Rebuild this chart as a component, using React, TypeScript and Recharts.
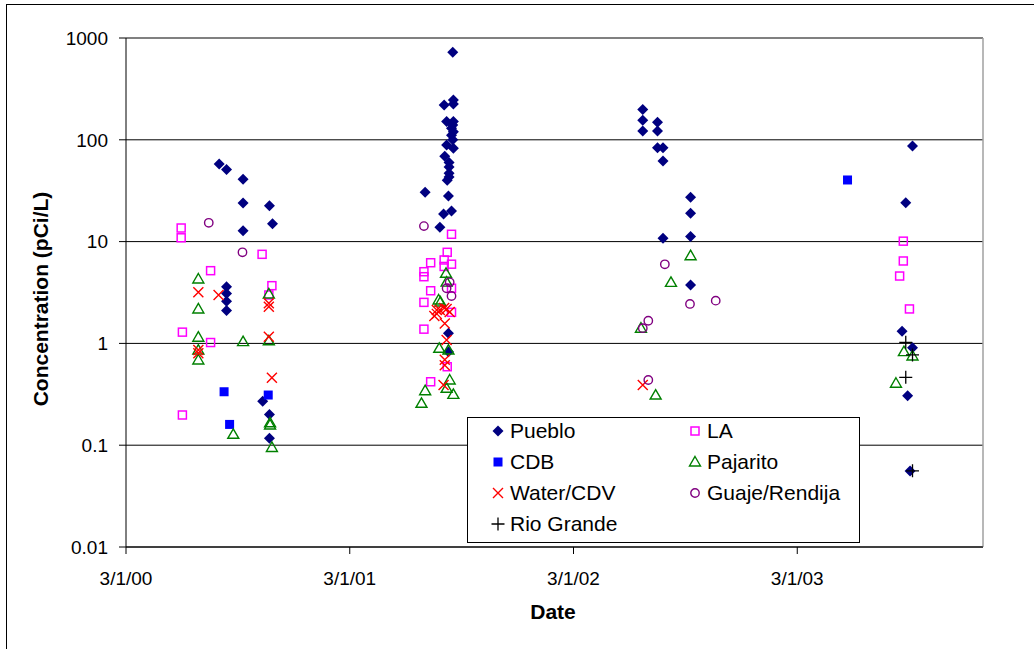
import { ScatterChart, Scatter, XAxis, YAxis, CartesianGrid, ReferenceLine, Legend } from 'recharts';

// sample dates + concentrations (pCi/L)
const puebloData: [string, number][] = [
  ['2000-07-31', 58], ['2000-08-12', 51], ['2000-09-08', 41], ['2000-09-08', 24], ['2000-09-08', 12.8],
  ['2000-10-21', 22.5], ['2000-10-26', 15], ['2000-08-12', 3.6], ['2000-08-12', 3.1], ['2000-08-12', 2.6],
  ['2000-08-12', 2.1], ['2000-10-10', 0.27], ['2000-10-21', 0.2], ['2000-10-21', 0.117],
  ['2001-07-02', 30.5], ['2001-07-26', 13.8], ['2001-08-01', 18.7], ['2001-08-02', 220], ['2001-08-03', 69],
  ['2001-08-06', 151], ['2001-08-06', 89], ['2001-08-07', 40], ['2001-08-09', 28], ['2001-08-09', 1.26],
  ['2001-08-09', 0.83], ['2001-08-10', 54], ['2001-08-10', 47], ['2001-08-10', 60], ['2001-08-10', 43],
  ['2001-08-14', 130], ['2001-08-14', 111], ['2001-08-14', 20], ['2001-08-16', 723], ['2001-08-16', 140],
  ['2001-08-16', 100], ['2001-08-17', 246], ['2001-08-17', 225], ['2001-08-17', 151], ['2001-08-17', 120],
  ['2001-08-17', 82.5],
  ['2002-06-22', 199], ['2002-06-22', 156], ['2002-06-22', 122], ['2002-07-16', 149], ['2002-07-16', 122],
  ['2002-07-16', 83.6], ['2002-07-25', 83.6], ['2002-07-25', 61.9], ['2002-07-25', 10.8], ['2002-09-08', 27.2],
  ['2002-09-08', 19], ['2002-09-08', 11.2], ['2002-09-08', 3.75],
  ['2003-08-19', 1.32], ['2003-08-25', 24.1], ['2003-08-28', 0.306], ['2003-09-01', 0.0558],
  ['2003-09-05', 86.9], ['2003-09-05', 0.908],
];

const laData: [string, number][] = [
  ['2000-05-30', 13.6], ['2000-05-30', 10.9], ['2000-06-01', 1.29], ['2000-06-01', 0.198], ['2000-07-17', 5.18],
  ['2000-07-17', 1.02], ['2000-10-09', 7.5], ['2000-10-20', 2.99], ['2000-10-25', 3.69],
  ['2001-06-30', 5.06], ['2001-06-30', 4.52], ['2001-06-30', 2.53], ['2001-06-30', 1.38], ['2001-07-11', 6.2],
  ['2001-07-11', 3.29], ['2001-07-11', 0.42], ['2001-08-02', 6.6], ['2001-08-02', 5.7], ['2001-08-07', 7.85],
  ['2001-08-07', 0.59], ['2001-08-14', 11.8], ['2001-08-14', 6.0], ['2001-08-14', 3.48], ['2001-08-14', 2.02],
  ['2003-08-15', 4.59], ['2003-08-21', 10.1], ['2003-08-21', 6.45], ['2003-08-31', 2.18],
];

const cdbData: [string, number][] = [
  ['2000-08-08', 0.335], ['2000-08-17', 0.16], ['2000-10-19', 0.311], ['2003-05-22', 40.3],
];

const pajaritoData: [string, number][] = [
  ['2000-06-27', 4.29], ['2000-06-27', 2.18], ['2000-06-27', 1.15], ['2000-06-27', 0.86], ['2000-06-27', 0.687],
  ['2000-08-23', 0.128], ['2000-09-08', 1.04], ['2000-10-20', 3.06], ['2000-10-20', 1.06], ['2000-10-22', 0.166],
  ['2000-10-22', 0.158], ['2000-10-25', 0.095],
  ['2001-06-26', 0.258], ['2001-07-02', 0.343], ['2001-07-24', 2.67], ['2001-07-27', 2.55], ['2001-07-25', 0.895],
  ['2001-08-05', 4.88], ['2001-08-06', 4.0], ['2001-08-06', 0.362], ['2001-08-09', 0.86], ['2001-08-11', 0.437],
  ['2001-08-17', 0.316],
  ['2002-06-19', 1.41], ['2002-07-13', 0.311], ['2002-08-07', 3.98], ['2002-09-08', 7.27],
  ['2003-08-09', 0.406], ['2003-08-22', 0.83], ['2003-09-05', 0.752],
];

const waterData: [string, number][] = [
  ['2000-06-27', 3.18], ['2000-06-27', 0.86], ['2000-06-27', 0.8], ['2000-07-30', 2.99], ['2000-10-20', 2.48],
  ['2000-10-20', 2.29], ['2000-10-20', 1.16], ['2000-10-25', 0.46],
  ['2001-07-17', 1.86], ['2001-07-21', 2.13], ['2001-07-21', 1.95], ['2001-07-26', 2.13], ['2001-08-01', 0.39],
  ['2001-08-02', 2.23], ['2001-08-03', 1.57], ['2001-08-03', 0.69], ['2001-08-03', 0.61], ['2001-08-06', 2.18],
  ['2001-08-06', 1.08], ['2001-08-11', 2.03],
  ['2002-06-22', 0.39],
];

const guajeData: [string, number][] = [
  ['2000-07-14', 15.3], ['2000-09-07', 7.85],
  ['2001-06-30', 14.2], ['2001-08-06', 3.48], ['2001-08-11', 3.98], ['2001-08-14', 2.92],
  ['2002-06-22', 1.41], ['2002-07-01', 1.67], ['2002-07-01', 0.437], ['2002-07-28', 5.98], ['2002-09-07', 2.44],
  ['2002-10-19', 2.63],
];

const rioGrandeData: [string, number][] = [
  ['2003-08-25', 1.025], ['2003-08-25', 0.464], ['2003-09-05', 0.77], ['2003-09-05', 0.056],
];

const xTickDates = ['2000-03-01', '2001-03-01', '2002-03-01', '2003-03-01'];
const xTickLabels = ['3/1/00', '3/1/01', '3/1/02', '3/1/03'];
const xEndDate = '2003-12-29';
const yTicks = [0.01, 0.1, 1, 10, 100, 1000];

const FONT = 'Arial, "Liberation Sans", sans-serif';
const DAY = 86400000;
const START = Date.UTC(2000, 2, 1);

const toDay = (s: string) => {
  const [y, m, d] = s.split('-').map(Number);
  return Math.round((Date.UTC(y, m - 1, d) - START) / DAY);
};
const toPoints = (rows: [string, number][]) => rows.map(([date, value]) => ({ x: toDay(date), y: value }));

const xTicks = xTickDates.map(toDay);

type Kind = 'diamond' | 'openSquare' | 'square' | 'triangle' | 'cross' | 'circle' | 'plus';

function Marker({ kind, cx, cy }: { kind: Kind; cx: number; cy: number }) {
  switch (kind) {
    case 'diamond': {
      const r = 5.5;
      return <polygon points={`${cx},${cy - r} ${cx + r},${cy} ${cx},${cy + r} ${cx - r},${cy}`} fill="#000080" />;
    }
    case 'square':
      return <rect x={cx - 4.5} y={cy - 4.5} width={9} height={9} fill="#0000ff" />;
    case 'openSquare':
      return <rect x={cx - 4} y={cy - 4} width={8} height={8} fill="none" stroke="#ff00ff" strokeWidth={1.5} />;
    case 'triangle':
      return <polygon points={`${cx},${cy - 5.5} ${cx + 5.5},${cy + 4} ${cx - 5.5},${cy + 4}`} fill="none" stroke="#008000" strokeWidth={1.4} />;
    case 'cross':
      return (
        <path d={`M${cx - 5},${cy - 5}L${cx + 5},${cy + 5}M${cx + 5},${cy - 5}L${cx - 5},${cy + 5}`} stroke="#ff0000" strokeWidth={1.4} />
      );
    case 'circle':
      return <circle cx={cx} cy={cy} r={4.2} fill="none" stroke="#800080" strokeWidth={1.4} />;
    default:
      return (
        <path d={`M${cx - 6.5},${cy}L${cx + 6.5},${cy}M${cx},${cy - 6.5}L${cx},${cy + 6.5}`} stroke="#000" strokeWidth={1.3} />
      );
  }
}

// legend order (row by row) is the series order
const series: { name: string; rows: [string, number][]; kind: Kind; color: string }[] = [
  { name: 'Pueblo', rows: puebloData, kind: 'diamond', color: '#000080' },
  { name: 'LA', rows: laData, kind: 'openSquare', color: '#ff00ff' },
  { name: 'CDB', rows: cdbData, kind: 'square', color: '#0000ff' },
  { name: 'Pajarito', rows: pajaritoData, kind: 'triangle', color: '#008000' },
  { name: 'Water/CDV', rows: waterData, kind: 'cross', color: '#ff0000' },
  { name: 'Guaje/Rendija', rows: guajeData, kind: 'circle', color: '#800080' },
  { name: 'Rio Grande', rows: rioGrandeData, kind: 'plus', color: '#000000' },
];

const seriesIndex = (name: string) => series.findIndex((s) => s.name === name);
const kindOf = (name: string) => series.find((s) => s.name === name)?.kind ?? 'plus';

const renderLegend = (props: any) => {
  const items = [...(props.payload || [])].sort((a: any, b: any) => seriesIndex(a.value) - seriesIndex(b.value));
  return (
    <div
      style={{
        width: 393, height: 126, boxSizing: 'border-box', border: '1px solid #000',
        background: '#fff', position: 'relative', fontFamily: FONT,
      }}
    >
      <div
        style={{
          position: 'absolute', left: 23, top: -3, display: 'grid',
          gridTemplateColumns: '197px 170px', gridAutoRows: '31px',
        }}
      >
        {items.map((it: any) => (
          <div key={it.value} style={{ display: 'flex', alignItems: 'center' }}>
            <svg width={14} height={14} style={{ overflow: 'visible' }}>
              <Marker kind={kindOf(it.value)} cx={7} cy={7} />
            </svg>
            <span style={{ marginLeft: 5, fontSize: 21, color: '#000', whiteSpace: 'nowrap' }}>{it.value}</span>
          </div>
        ))}
      </div>
    </div>
  );
};

export default function App() {
  const xEnd = toDay(xEndDate);
  return (
    <div style={{ position: 'absolute', left: 0, top: 0, width: 1034, height: 649, background: '#fff', fontFamily: FONT }}>
      <div
        style={{
          position: 'absolute', left: 6, top: 4, width: 1028, height: 645, boxSizing: 'border-box',
          borderLeft: '1px solid #000', borderTop: '1px solid #000',
        }}
      />
      <ScatterChart width={1034} height={649} margin={{ top: 38, right: 51, bottom: 42, left: 0 }}>
        <CartesianGrid horizontal vertical={false} stroke="#000" />
        <ReferenceLine y={1000} stroke="#808080" strokeWidth={1.5} />
        <ReferenceLine x={xEnd} stroke="#a0a0a0" strokeWidth={1.5} />
        <XAxis
          type="number"
          dataKey="x"
          domain={[0, xEnd]}
          ticks={xTicks}
          allowDataOverflow
          height={60}
          tickSize={7}
          tickMargin={18}
          tickFormatter={(v: number) => xTickLabels[xTicks.indexOf(v)] ?? ''}
          tick={{ fontSize: 19, fill: '#000', fontFamily: FONT }}
          axisLine={{ stroke: '#000' }}
          tickLine={{ stroke: '#000' }}
          label={{
            content: () => (
              <text x={553} y={619} textAnchor="middle" fontSize={21} fontWeight="bold" fontFamily={FONT} fill="#000">
                Date
              </text>
            ),
          }}
        />
        <YAxis
          type="number"
          dataKey="y"
          scale="log"
          domain={[0.01, 1000]}
          ticks={yTicks}
          allowDataOverflow
          width={126}
          tickSize={7}
          tickMargin={11}
          tickFormatter={(v: number) => String(v)}
          tick={{ fontSize: 19, fill: '#000', fontFamily: FONT }}
          axisLine={{ stroke: '#000' }}
          tickLine={{ stroke: '#000' }}
          label={{
            content: () => (
              <text
                x={48}
                y={299}
                transform="rotate(-90 48 299)"
                textAnchor="middle"
                fontSize={21}
                fontWeight="bold"
                fontFamily={FONT}
                fill="#000"
              >
                Concentration (pCi/L)
              </text>
            ),
          }}
        />
        {series.map((s) => (
          <Scatter
            key={s.name}
            name={s.name}
            data={toPoints(s.rows)}
            fill={s.color}
            isAnimationActive={false}
            shape={(p: any) => <Marker kind={s.kind} cx={p.cx} cy={p.cy} />}
          />
        ))}
        <Legend
          layout="horizontal"
          verticalAlign="middle"
          align="center"
          content={renderLegend}
          wrapperStyle={{ position: 'absolute', left: 467, top: 417, width: 393, height: 126 }}
        />
      </ScatterChart>
    </div>
  );
}
